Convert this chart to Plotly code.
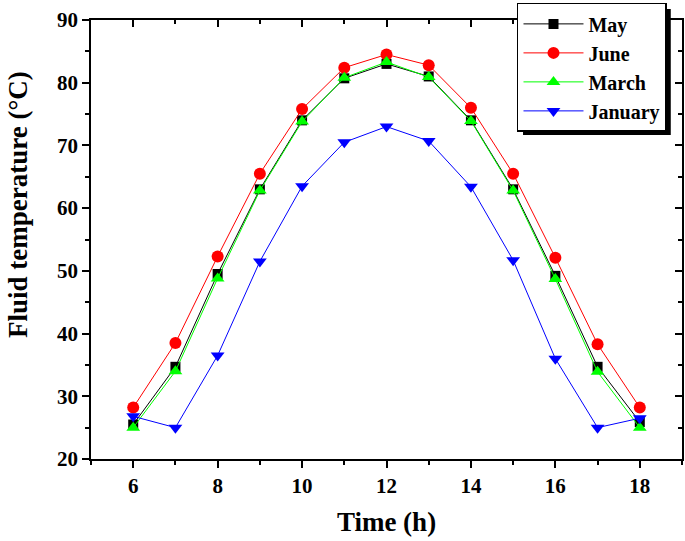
import plotly.graph_objects as go

hours = [6, 7, 8, 9, 10, 11, 12, 13, 14, 15, 16, 17, 18]
may = [25.5, 34.7, 49.5, 63.0, 74.0, 80.7, 83.0, 81.0, 74.0, 63.0, 49.2, 34.7, 25.9]
june = [28.2, 38.5, 52.3, 65.5, 75.8, 82.4, 84.5, 82.8, 76.0, 65.5, 52.1, 38.3, 28.2]
march = [25.0, 34.0, 48.8, 62.8, 73.8, 80.8, 83.3, 80.9, 73.9, 62.8, 48.7, 33.9, 25.0]
january = [26.8, 25.0, 36.5, 51.5, 63.5, 70.5, 73.0, 70.7, 63.4, 51.7, 36.0, 25.0, 26.5]

x_ticks = [6, 8, 10, 12, 14, 16, 18]
y_ticks = [20, 30, 40, 50, 60, 70, 80, 90]

FONT = "Liberation Serif"

series = [
    ("May", may, "#000000", "square", 10),
    ("June", june, "#FF0000", "circle", 12),
    ("March", march, "#00FF00", "triangle-up", 12),
    ("January", january, "#0000FF", "triangle-down", 12),
]

fig = go.Figure()
for name, vals, col, sym, sz in series:
    fig.add_trace(go.Scatter(
        x=hours, y=vals, name=name, mode="lines+markers",
        line=dict(color=col, width=1),
        marker=dict(symbol=sym, size=sz, color=col, line=dict(width=0)),
    ))

# invisible trace to carry mirrored (inward) axes
fig.add_trace(go.Scatter(x=[None], y=[None], xaxis="x2", yaxis="y2",
                         showlegend=False, hoverinfo="skip"))

axis_common = dict(showline=True, linecolor="black", linewidth=1.8,
                   showgrid=False, zeroline=False, ticklen=7, tickwidth=1.5,
                   tickcolor="black", automargin=False)

fig.update_layout(
    width=685, height=541,
    margin=dict(l=91, r=3, t=20, b=82),
    paper_bgcolor="white", plot_bgcolor="white",
    font=dict(family=FONT, color="black"),
    xaxis=dict(range=[5, 19], tickvals=x_ticks, ticks="outside",
               tickfont=dict(size=21, family=FONT, weight="bold"),
               minor=dict(dtick=1, tick0=5, ticks="outside", ticklen=4,
                          tickwidth=1.5, tickcolor="black"),
               title=dict(text="<b>Time (h)</b>", font=dict(size=27, family=FONT)),
               **axis_common),
    yaxis=dict(range=[20, 90], tickvals=y_ticks, ticks="outside",
               tickfont=dict(size=21, family=FONT, weight="bold"),
               minor=dict(dtick=5, tick0=0, ticks="outside", ticklen=4,
                          tickwidth=1.5, tickcolor="black"),
               **axis_common),
    xaxis2=dict(range=[5, 19], overlaying="x", side="top", tickvals=x_ticks,
                ticks="inside", showticklabels=False,
                minor=dict(dtick=1, tick0=5, ticks="inside", ticklen=4,
                           tickwidth=1.5, tickcolor="black"),
                **axis_common),
    yaxis2=dict(range=[20, 90], overlaying="y", side="right", tickvals=y_ticks,
                ticks="inside", showticklabels=False,
                minor=dict(dtick=5, tick0=0, ticks="inside", ticklen=4,
                           tickwidth=1.5, tickcolor="black"),
                **axis_common),
    legend=dict(x=0.7208, y=1.039, xanchor="left", yanchor="top",
                bgcolor="white", bordercolor="black", borderwidth=1.5,
                font=dict(size=20, family=FONT, weight="bold"),
                itemwidth=60, tracegroupgap=0),
    annotations=[dict(text="<b>Fluid temperature (°C)</b>", xref="paper", yref="paper",
                      x=-0.1235, y=0.5786, textangle=-90, showarrow=False,
                      xanchor="center", yanchor="middle",
                      font=dict(size=27, family=FONT, color="black"))],
    shapes=[dict(type="rect", xref="paper", yref="paper",
                 x0=0.731, x1=0.981, y0=0.738, y1=1.025,
                 fillcolor="black", line=dict(width=0), layer="above")],
)

fig.write_html("out.html", config={"displayModeBar": False},
               post_script="document.body.style.margin='0';")
